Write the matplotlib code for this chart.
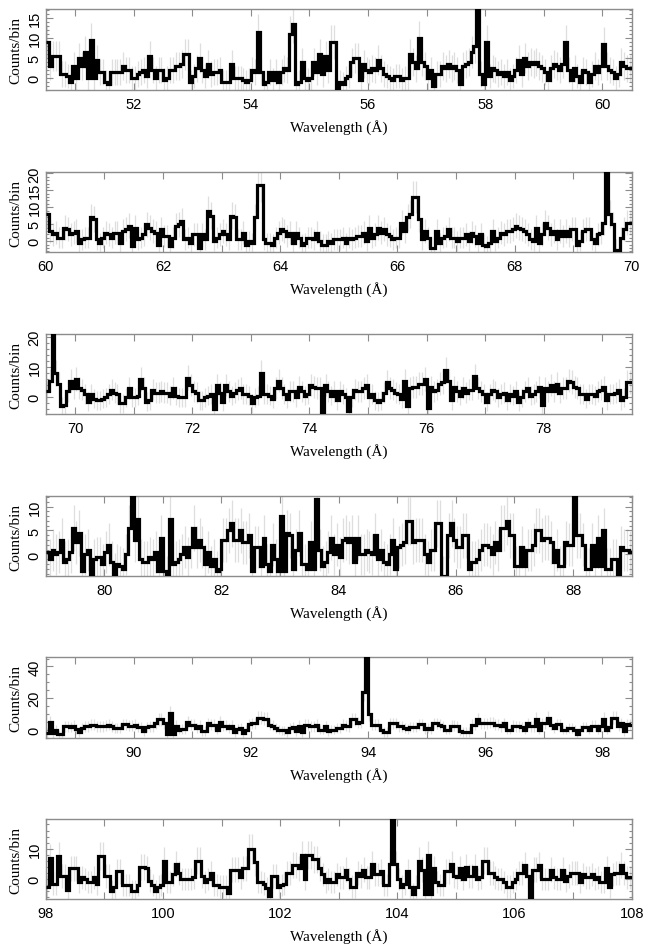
import numpy as np
import matplotlib
matplotlib.use("Agg")
import matplotlib.pyplot as plt
from matplotlib.ticker import MultipleLocator

# ---------------- data (counts per 0.05 A bin) ----------------
bin_width = 0.05
panel_starts = [50.5, 60.0, 69.5, 79.0, 88.5, 98.0]

counts_p1 = [
    9, 3, 5.5, 5.5, 5.5, 1, 1, 0.5, -1, 3,
    0, 5, 3, 6.5, 0, 9.5, 0, 4.5, 1.5, 1.5,
    -1, -1.5, 1.5, 1.5, 1.5, 1.5, 3, 2, 2, 0,
    0, 1, 1.5, 2, 0.5, 5.5, 2, 0, 2, 2,
    -0.5, 0, 2, 2, 3, 3, 3.5, 6, 6, -1,
    0.5, 2.5, 5, 2, 0.5, 3.5, 1, 1.5, 1.5, 2,
    -1, -1, -1, 3.5, 0, 0, 0, -0.5, -1, -0.5,
    2, 1.5, 11.5, 1.5, -1.5, -1, 1.5, -0.5, 1.5, -1,
    1.5, 2.5, 2, 11, 13.5, -1.5, -1, 4, 0, -0.5,
    0, 4, 1.5, 6, 1, 5.5, 2, 9, 9, -3,
    -1, -1.5, 0, 0.5, 4, 5, 5, -0.5, 3.5, 2,
    1.5, 2.5, 2, 4.5, 2.5, 1, 0.5, 0, -0.5, 0.5,
    0.5, -0.5, 0, 0, 6, 4, 2.5, 10, 4, 3,
    0, 2, -2, 1, 1, 3, 2.5, 3.5, 2.5, 3,
    2, -1.5, 3, 3.5, 4, 6.5, 8, 19, 1, -1.5,
    9, 0.5, 2.5, 2, 1, 1.5, 0.5, 1.5, -0.5, 0.5,
    2, 4.5, 1, 5, 3, 4, 3.5, 4, 3, 2.5,
    1.5, -0.5, 2.5, 3.5, 3, 2, 3.5, 9, 2, -0.5,
    2.5, 0.5, -1, 2, 1.5, -1, 1, 3, 1.5, 3,
    8.5, 3, 2, 1.5, 0, 1, 4, 3, 2.5, 2.5,
]

counts_p2 = [
    8, 3, 2, 2.5, 1, 1, 4, 3.5, 2, 2.5,
    3, -0.5, 0.5, 1, 1, 7, 6.5, 0.5, -0.5, 1,
    2.5, 2, 1, 2.5, 2.5, -0.5, 3, 3.5, 4.5, -1.5,
    4, 0.5, 1, 2, 5, 4, 3, 2.5, -1, 3.5,
    1.5, 1.5, -1.5, 1, 4.5, 5, 6, 0.5, 1, -0.5,
    2, 2, -2, 2, 0.5, 9, 7.5, 0, 1, 2,
    3, 2, 0.5, 7.5, 7, 0.5, 0.5, 2.5, -1, 0,
    -0.5, 7, 16.5, 16.5, 0.5, -0.5, -0.5, -1, 1, 2.5,
    3.5, 3, 1.5, 2.5, -0.5, 2.5, 1, -1, -0.5, 1,
    1, 0.5, 2.5, 0, -1, -1, 0, -0.5, 0.5, 0.5,
    0.5, 1, -0.5, 1, 0.5, 1, 1.5, 1.5, 2.5, 0,
    4, 1, 2, 4, 2.5, 3.5, 2, 1.5, 0.5, 1,
    1, 5.5, 3, 7, 8, 13, 13, 6.5, 0.5, 3,
    1, -2, -2, 3, -0.5, 1, 1.5, 3.5, 1, 1,
    0, 1, 1, 2, 0, 2.5, 1.5, -0.5, 2, -1,
    -1.5, -0.5, 3, 0, 1, 2.5, 2, 3, 3, 3.5,
    4.5, 4, 3.5, 3, 2, 0.5, 0, 4, -0.5, 2,
    5.5, 4, 2, 3, 0.5, 3, 1.5, 3, 1.5, 3.5,
    3.5, -1, 0, 3, 3.5, 3.5, 0.5, -0.5, 2, 2.5,
    5.5, 21, 8, 5, -2.5, -2.5, 1, 3.5, 5.5, 5.5,
]

counts_p3 = [
    2, 5.5, 30, 8, 4.5, -3, -2.5, 2, 5.5, 3,
    6, 3, 2.5, 1, -1.5, 1, -0.5, -1, -1, -0.5,
    0, 1, 2.5, 1.5, 1, -2, -2, 0, 3, 0,
    0, 0.5, 6, 3, -1.5, -1, 2.5, 1.5, 1.5, 2,
    1.5, 1.5, 0.5, 3, 0.5, 0, 0, 0, 6.5, 4,
    2, 1.5, -1, -1, 0, 0.5, 1, -4, 4, 1.5,
    -1.5, 4, 2, 0.5, 1.5, 2.5, 3, 1, 1, 0.5,
    -2, 0, 0.5, 8, 1, 1, 0.5, -0.5, 3, 5.5,
    3, 1, -0.5, 2, 2, 0, 3.5, 2, 0.5, 1,
    4, 3.5, 3, 3, -5.5, 4, 2, 0.5, 2, -1,
    2, 1, 0, -4.5, 0, 2.5, 2, 2, 3, 4,
    0, 1, -1, -1.5, -1, 1.5, 5, 3, 2.5, 1.5,
    1, -0.5, 5.5, -3, 3, 3.5, 3.5, 4.5, 4.5, 6,
    -3.5, 3.5, 2, 2.5, 4.5, 5, 9, 5.5, -1, 3.5,
    2, 0.5, 3, 1.5, 2.5, 2.5, 7, 3, 2, 1,
    -1.5, 1, 2.5, 2, 0, 1, 1.5, -1, 1, 0.5,
    2, -1.5, 0, 2, 3, 0.5, 1, 2, 3.5, -2.5,
    3, 2, 4, 2, 4.5, 1.5, 3, 3, 5.5, 5,
    3.5, 3, 1, 1, -0.5, 1, 1, 0.5, 2, 2.5,
    3.5, -1, 1, 1, 1.5, 2.5, -1, 0, 5, 5,
]

counts_p4 = [
    0.5, -1, 1, 0, 0.5, 3, -1.5, -1, 0.5, 5.5,
    2.5, 4.5, -3.5, 0, 1, -4, -1, -0.5, -0.5, -2,
    0.5, 2, -1.5, -4, -2, -2.5, -3, 0, 5.5, 12.5,
    3, 7.5, -1, -1.5, -1.5, -0.5, -1, 0.5, -3.5, 3.5,
    -3.5, -4.5, 7.5, -2, -1.5, -1, 0, 1.5, -0.5, 1.5,
    5.5, 1.5, 3, 1.5, -2, 0.5, -2.5, -1, -3.5, -3,
    3, 3, 5, 6.5, 3, 3, 5, 2.5, 2.5, 4,
    -3.5, 1.5, 1.5, -2.5, 3.5, -2, -3.5, 2, -1, -3.5,
    8, -3.5, 4.5, 4, -3, 1, 4.5, -2, -2, -3,
    2.5, -3, 11.5, 1, -2.5, -1.5, 0.5, 3.5, 0, 2,
    -0.5, 3, 3.5, 2.5, 3.5, -1.5, 3.5, 0, 0, 1,
    0.5, 0, 4, -1, 1, -1.5, -2, 0, 3, -3,
    1.5, 2, 2.5, 7, 7, 2.5, 3, 3, 3, 0,
    -1.5, 1, 1, 6.5, 6.5, -4.5, -4.5, 4, 6.5, 3,
    1.5, 1.5, 4, 4, -3, -1.5, -1.5, -1, 1, 2,
    2, 1.5, 0, 2.5, 1, 5.5, 5.5, 7, 4, 4,
    -2.5, -2.5, 1.5, -2.5, 1, 1, 2, 5, 5, 3,
    3.5, 3.5, 2.5, -1.5, 1, -2.5, -2.5, 2.5, 2, 2,
    12.5, 4, 4, 2, -3, -3, 2, -2.5, 3.5, -2.5,
    5, -3, -3, -1, -1, -4, 1.5, 1, 1, 0.5,
]

counts_p5 = [
    -2, 5, -2, 0, -3, -3, 2, 2, 1.5, 2.5,
    0.5, -1.5, 1, 2, 2, 3, 3, 2, 2, 2,
    2.5, 3, 2, 1, 1, 1, 3.5, 3.5, 2.5, 2.5,
    3, 1.5, 1.5, -1, 1.5, 2, 2, 4, 6.5, 6.5,
    4, -3, 10.5, -2.5, 2.5, 0, 0.5, 0.5, 5, 3,
    3, 1, 2.5, -1, -1, 4, 3, 3, 0, 5,
    2.5, 2.5, 1, 2.5, -1.5, 0.5, 1, -2, 0, 3.5,
    4, 4, 7.5, 7.5, 7, 7, 3, 2.5, 1, 0,
    -0.5, -0.5, -1.5, 1, 1.5, -1, 2.5, -1.5, 3, 3,
    2, 2, 3, 0, 0, 2, -1, 0, 0, 1,
    1, 3, 2.5, 2, 6.5, 6.5, 4.5, 5, 24, 50,
    10, 3, 3, 3, 0, -1.5, -1.5, 4, 4, 4,
    2, 2, 1, 0.5, 1.5, 1.5, 1.5, 3.5, 3.5, 0.5,
    1, 0.5, 4, 4, 3, 2, 0, 0, 2.5, 2.5,
    2, -1, -1.5, -1.5, -1.5, 3, 3, 6.5, 4, 4,
    4, 4.5, 4.5, 3, 3, 2, 4, 0, 0, 2.5,
    2, 2, 1.5, 0, 4, 2, 2, 7, 0, 4,
    4, 7.5, 3, 1, 3.5, 3.5, 0, 0, 1, 1,
    0, -2.5, 0, 1.5, 1.5, 0, 2.5, 2.5, 0, 2,
    7, 0, 1.5, 7.5, 7.5, 2.5, 4, -1, 3.5, 3,
]

counts_p6 = [
    -2.5, 7, -1.5, -1.5, 7.5, 1, 1, -3.5, 3.5, 3.5,
    3.5, -1, 0.5, 0, -1, -1, 0.5, -1.5, 7.5, 7.5,
    1, 1, -4, -2.5, 2.5, 2.5, -2, -2, -2, -4,
    -4, -2, 4, 4, 3.5, -0.5, -2, -4, -2.5, -2,
    6, -1, -1, 1.5, 5, 2, 0, 0, 0, 0,
    0.5, 6, 6, 1, -1, 0, 2, -2, -2, -2.5,
    -2.5, -2.5, -4.5, 3, 3, 3, 0.5, 3.5, 3.5, 10,
    10, 5.5, -1, -1, -1.5, -3, -5.5, 1, 1, -2.5,
    -2, -1.5, 2, 2, 4.5, 4.5, 3.5, 8, 0, 8,
    8, 6.5, 6.5, 3.5, 1.5, -1, 0, -1, -1, 1.5,
    0.5, 0.5, 3, 0, -2.5, -2.5, 2, 1, 3, 0.5,
    0.5, 5, 1.5, 1.5, 2.5, -2, -2, 5, 25, 5,
    0, -2.5, -1.5, 2.5, -2.5, -5, -2.5, 6, 3, -5,
    8, -5, 3.5, -1, -2, -2, 2.5, 2.5, 5, 1,
    0.5, 3.5, 0, 4, 1, 1, 4, 0, 0.5, 6,
    6, 2, 2, 0.5, 0, 0, -1, -2.5, -2.5, -1,
    0, 2, 2, 4.5, 1, -6.5, 3, 3, 4.5, 0,
    0, 0, 3, 0.5, 0, 0, 3, -0.5, 1, 2,
    2, 2, -1, 1.5, 0.5, 0.5, 1.5, 0, 0.5, -1,
    -1, 3.5, -2.5, 1.5, 2, 2, 4.5, 2, 0.5, 0.5,
]

# background level used for the Poisson error bars of each panel
background = [9, 9, 10, 18, 9, 14]

y_limits = [(-3, 17.3), (-3.2, 20.4), (-5.6, 21), (-4.5, 12.2), (-5.3, 46), (-6.6, 19.8)]
y_major = [5, 5, 10, 5, 20, 10]
y_minor = [1, 1, 2, 1, 5, 2]

all_counts = [counts_p1, counts_p2, counts_p3, counts_p4, counts_p5, counts_p6]

# ---------------- figure ----------------
W, H = 652, 953
fig = plt.figure(figsize=(W / 100, H / 100), dpi=100)

tick_font = "Liberation Sans"
label_font = "Liberation Serif"
frame_col = "#8c8c8c"

ax_left_px, ax_right_px = 45.7, 631.7
tops_px = [10, 173, 335, 497, 658, 820]
bottoms_px = [91, 253, 415, 577, 739, 900]

for i in range(6):
    y = np.asarray(all_counts[i], dtype=float)
    x0 = panel_starts[i]
    edges = x0 + bin_width * np.arange(len(y) + 1)
    centers = 0.5 * (edges[:-1] + edges[1:])
    err = np.sqrt(np.clip(y, 0, None) + background[i])

    left = ax_left_px / W
    width = (ax_right_px - ax_left_px) / W
    bottom = 1 - bottoms_px[i] / H
    height = (bottoms_px[i] - tops_px[i]) / H
    ax = fig.add_axes([left, bottom, width, height])

    ax.vlines(centers, y - err, y + err, color="#dedede", lw=0.9, zorder=1)
    ax.stairs(y, edges, color="black", lw=2.3, zorder=3, baseline=None)

    ax.set_xlim(x0, x0 + 10)
    ax.set_ylim(*y_limits[i])

    ax.xaxis.set_major_locator(MultipleLocator(2))
    ax.xaxis.set_minor_locator(MultipleLocator(1))
    ax.yaxis.set_major_locator(MultipleLocator(y_major[i]))
    ax.yaxis.set_minor_locator(MultipleLocator(y_minor[i]))

    ax.tick_params(axis="both", which="both", direction="in", top=True, right=True,
                   color=frame_col, width=0.8)
    ax.tick_params(axis="x", which="major", length=5, labelsize=10.5, pad=5)
    ax.tick_params(axis="x", which="minor", length=5)
    ax.tick_params(axis="y", which="major", length=5, labelsize=10.5, pad=3)
    ax.tick_params(axis="y", which="minor", length=2.5)
    for lab in ax.get_yticklabels():
        lab.set_rotation(90)
        lab.set_va("center")
        lab.set_family(tick_font)
    for lab in ax.get_xticklabels():
        lab.set_family(tick_font)

    for sp in ax.spines.values():
        sp.set_color(frame_col)
        sp.set_linewidth(1.0)

    ax.set_xlabel("Wavelength (\u00c5)", family=label_font, fontsize=11, labelpad=5.5)
    ax.set_ylabel("Counts/bin", family=label_font, fontsize=11, labelpad=4)

fig.savefig("out.png", dpi=100)
